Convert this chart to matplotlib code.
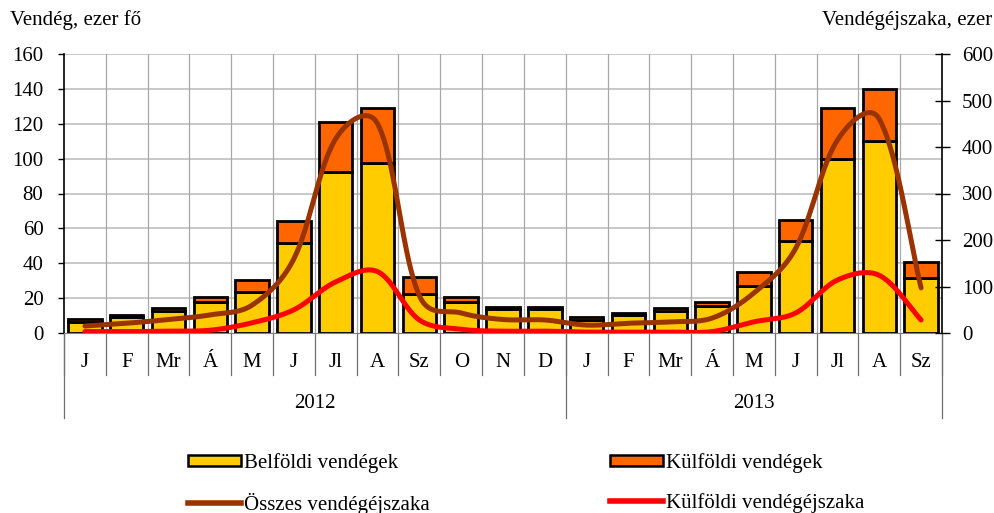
import numpy as np
import matplotlib
matplotlib.use('Agg')
from matplotlib import pyplot as plt
from matplotlib.patches import Patch
from matplotlib.lines import Line2D
import matplotlib.transforms as mtransforms

months = ['J', 'F', 'Mr', 'Á', 'M', 'J', 'Jl', 'A', 'Sz', 'O', 'N', 'D',
          'J', 'F', 'Mr', 'Á', 'M', 'J', 'Jl', 'A', 'Sz']
years = ['2012', '2013']
year_lengths = [12, 9]

# vendég, ezer fő
belfoldi = [6.5, 9, 12.5, 17.5, 23.5, 51.5, 92.5, 97.5, 22.5, 18, 13.5, 13.5,
            7.5, 10.5, 12.5, 15.5, 27, 53, 100, 110, 31.5]
kulfoldi = [1.5, 1.5, 2, 3, 7, 13, 28.5, 31.5, 9.5, 2.5, 1.5, 1.5,
            1.5, 1.2, 1.8, 2, 8, 12, 29, 30, 9.5]
# vendégéjszaka, ezer
osszes_ej = [15, 21, 29, 39, 60, 160, 418, 450, 80, 43, 29, 28,
             17, 21, 24, 32, 86, 182, 415, 460, 97]
kulfoldi_ej = [3, 3, 4, 6, 22, 50, 110, 132, 28, 8, 4, 4,
               2, 2, 2, 3, 24, 43, 114, 124, 28]

YELLOW = '#FFCC00'
ORANGE = '#FF6600'
BROWN = '#993300'
RED = '#FF0000'
FONT = 'Liberation Serif'
FS = 15

plt.rcParams['font.family'] = FONT

# pixel scale of the plot area, used so the smoothing behaves like office charts
PX_X = 878 / 21
PX_Y = 279 / 600


def smooth(y, n=40):
    # cubic Bezier through the points; handle length partly follows segment lengths
    px = np.arange(len(y)) * PX_X
    py = np.asarray(y, dtype=float) * PX_Y
    pts = np.column_stack([px, py])
    out = []
    m = len(pts)
    for i in range(m - 1):
        p0 = pts[max(i - 1, 0)]
        p1 = pts[i]
        p2 = pts[i + 1]
        p3 = pts[min(i + 2, m - 1)]
        l01 = np.hypot(*(p1 - p0))
        l12 = np.hypot(*(p2 - p1))
        l23 = np.hypot(*(p3 - p2))
        r1 = 0.5 * l12 / (l01 + l12) + 0.25
        r2 = 0.5 * l12 / (l12 + l23) + 0.25
        c1 = p1 + (p2 - p0) / 3 * r1
        c2 = p2 - (p3 - p1) / 3 * r2
        t = np.linspace(0, 1, n)[:, None]
        seg = ((1 - t)**3 * p1 + 3 * (1 - t)**2 * t * c1
               + 3 * (1 - t) * t**2 * c2 + t**3 * p2)
        out.append(seg)
    out = np.vstack(out)
    return out[:, 0] / PX_X, out[:, 1] / PX_Y


fig = plt.figure(figsize=(9.95, 5.13), dpi=100)
ax = fig.add_axes([64 / 995, 1 - 333 / 513, 878 / 995, 279 / 513])
ax2 = ax.twinx()

n = len(months)
x = np.arange(n)
ax.bar(x, belfoldi, width=0.8, color=YELLOW, edgecolor='black', linewidth=2, zorder=3)
ax.bar(x, kulfoldi, width=0.8, bottom=belfoldi, color=ORANGE, edgecolor='black',
       linewidth=2, zorder=3)

sx, sy = smooth(osszes_ej)
ax2.plot(sx, sy, color=BROWN, lw=3.6, solid_capstyle='round', zorder=4)
sx, sy = smooth(kulfoldi_ej)
ax2.plot(sx, sy, color=RED, lw=3.6, solid_capstyle='round', zorder=4)

ax.set_xlim(-0.5, n - 0.5)
ax.set_ylim(0, 160)
ax2.set_ylim(0, 600)
ax.set_yticks(np.arange(0, 161, 20))
ax2.set_yticks(np.arange(0, 601, 100))

# grid
for v in np.arange(20, 161, 20):
    ax.axhline(v, color='#C8C8C8', lw=1.4, zorder=0)
for i in range(1, n):
    ax.axvline(i - 0.5, color='#A8A8A8', lw=0.9, zorder=0)

for a in (ax, ax2):
    a.spines['top'].set_visible(False)
ax.spines['left'].set_linewidth(1.2)
ax2.spines['right'].set_linewidth(1.2)
ax.spines['bottom'].set_color('#808080')
ax2.spines['left'].set_visible(False)
ax2.spines['bottom'].set_visible(False)
ax.spines['right'].set_visible(False)

ax.tick_params(axis='y', direction='out', length=4.3, width=1, pad=10.5, labelsize=FS)
ax2.tick_params(axis='y', direction='inout', length=10.8, width=1, pad=9, labelsize=FS)

# month labels and two-level category separators
ax.set_xticks(x)
ax.set_xticklabels([])
ax.tick_params(axis='x', length=0)
trans = mtransforms.blended_transform_factory(ax.transData, ax.transAxes)
for i, m in enumerate(months):
    ax.text(i, -0.104, m, transform=trans, ha='center', va='center', fontsize=FS)
for i in range(n + 1):
    ax.plot([i - 0.5, i - 0.5], [0, -0.15], transform=trans, color='#707070',
            lw=0.9, clip_on=False)
start = 0
for yr, ln in zip(years, year_lengths):
    ax.plot([start - 0.5, start - 0.5], [0, -0.305], transform=trans, color='#707070',
            lw=0.9, clip_on=False)
    ax.text(start + ln / 2 - 0.5, -0.254, yr, transform=trans, ha='center', va='center',
            fontsize=FS)
    start += ln
ax.plot([n - 0.5, n - 0.5], [0, -0.305], transform=trans, color='#707070',
        lw=0.9, clip_on=False)

fig.text(10 / 995, 1 - 20 / 513, 'Vendég, ezer fő', ha='left', va='center', fontsize=FS)
fig.text(992 / 995, 1 - 20 / 513, 'Vendégéjszaka, ezer', ha='right', va='center', fontsize=FS)

# legend, two columns
col1 = [Patch(facecolor=YELLOW, edgecolor='black', linewidth=1.8),
        Line2D([], [], color=BROWN, lw=4)]
col2 = [Patch(facecolor=ORANGE, edgecolor='black', linewidth=1.8),
        Line2D([], [], color=RED, lw=4)]
common = dict(frameon=False, fontsize=FS, handlelength=2.55, handleheight=0.5,
              handletextpad=0.15, labelspacing=0.95, borderaxespad=0, borderpad=0)
fig.legend(col1, ['Belföldi vendégek', 'Összes vendégéjszaka'], loc='upper left',
           bbox_to_anchor=(188 / 995, 1 - 453 / 513), **common)
fig.legend(col2, ['Külföldi vendégek', 'Külföldi vendégéjszaka'], loc='upper left',
           bbox_to_anchor=(610 / 995, 1 - 453 / 513), **common)

fig.savefig('out.png', dpi=100)
